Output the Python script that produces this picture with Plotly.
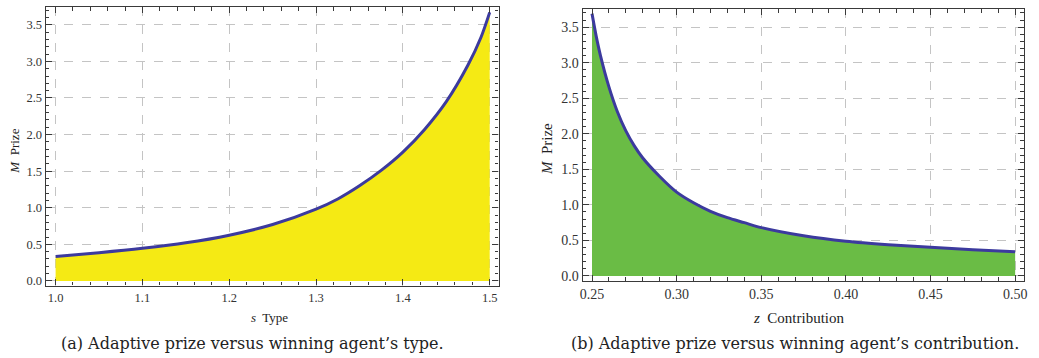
import plotly.graph_objects as go

# ---- data ----
type_s = [1.0, 1.05, 1.1, 1.15, 1.2, 1.25, 1.3, 1.325, 1.35, 1.375, 1.4, 1.425, 1.45, 1.475, 1.49, 1.5]
prize_by_type = [0.333, 0.385, 0.445, 0.52, 0.625, 0.77, 0.98, 1.12, 1.30, 1.51, 1.76, 2.07, 2.45, 2.95, 3.33, 3.67]

contrib_z = [0.25, 0.2525, 0.255, 0.26, 0.265, 0.27, 0.275, 0.28, 0.29, 0.30, 0.31, 0.32, 0.33, 0.34,
             0.35, 0.375, 0.40, 0.425, 0.45, 0.475, 0.50]
prize_by_contrib = [3.69, 3.37, 3.10, 2.66, 2.31, 2.04, 1.83, 1.66, 1.40, 1.18, 1.03, 0.91, 0.82, 0.75,
                    0.68, 0.565, 0.488, 0.44, 0.405, 0.37, 0.34]

captions = ["(a) Adaptive prize versus winning agent\u2019s type.",
            "(b) Adaptive prize versus winning agent\u2019s contribution."]

W, H = 1039, 358
LINE = "rgb(60,58,158)"
YELLOW = "rgb(245,234,20)"
GREEN = "rgb(106,188,69)"
FRAME = "#3a3a3a"
SERIF = "Liberation Serif"
CAP = "DejaVu Serif"

fig = go.Figure()
fig.add_trace(go.Scatter(x=type_s, y=prize_by_type, mode="lines", fill="tozeroy",
                         fillcolor=YELLOW, line=dict(color=LINE, width=3, shape="spline", smoothing=0.8),
                         xaxis="x", yaxis="y", hoverinfo="skip"))
fig.add_trace(go.Scatter(x=contrib_z, y=prize_by_contrib, mode="lines", fill="tozeroy",
                         fillcolor=GREEN, line=dict(color=LINE, width=3, shape="spline", smoothing=0.8),
                         xaxis="x2", yaxis="y2", hoverinfo="skip"))


def ax(domain, rng, dtick, minor_dtick, fmt, anchor, size, tick0):
    return dict(domain=domain, range=rng, dtick=dtick, tick0=tick0, tickformat=fmt, anchor=anchor,
                showline=True, mirror="allticks", linecolor=FRAME, linewidth=1.3,
                ticks="inside", ticklen=6, tickwidth=1, tickcolor=FRAME,
                minor=dict(ticks="inside", dtick=minor_dtick, ticklen=3.5, tickwidth=1, tickcolor=FRAME,
                           showgrid=False),
                showgrid=True, gridcolor="#c4c4c4", griddash="dash", gridwidth=1,
                zeroline=False, tickfont=dict(family=SERIF, size=size, color="#333"))


fig.update_layout(
    width=W, height=H, margin=dict(l=0, r=0, t=0, b=0),
    paper_bgcolor="white", plot_bgcolor="white", showlegend=False,
    xaxis=ax([43 / W, 499 / W], [0.9886, 1.5103], 0.1, 0.02, ".1f", "y", 12.5, 1.0),
    yaxis=ax([1 - 288 / H, 1 - 7 / H], [-0.064, 3.744], 0.5, 0.1, ".1f", "x", 12.5, 0),
    xaxis2=ax([583.7 / W, 1027.7 / W], [0.24454, 0.5051], 0.05, 0.01, ".2f", "y2", 14, 0.25),
    yaxis2=ax([1 - 283.3 / H, 1 - 9.3 / H], [-0.0697, 3.752], 0.5, 0.1, ".1f", "x2", 14, 0),
)

ann = []
def txt(text, x, y, size, family=SERIF, angle=0):
    ann.append(dict(text=text, x=x / W, y=1 - y / H, xref="paper", yref="paper", showarrow=False,
                    xanchor="center", yanchor="middle", textangle=angle,
                    font=dict(family=family, size=size, color="#222")))

txt("<i>s</i>  Type", 268, 320, 13)
txt("<i>M</i>  Prize", 12, 152, 13, angle=-90)
txt("<i>z</i>  Contribution", 801.7, 320.7, 15)
txt("<i>M</i>  Prize", 547, 150, 15, angle=-90)
txt(captions[0], 251, 346.5, 16, family=CAP)
txt(captions[1], 797.5, 346.5, 16, family=CAP)
fig.update_layout(annotations=ann)

fig.write_html("out.html", config={"displayModeBar": False},
               post_script="document.body.style.margin='0';document.body.style.overflow='hidden';")
